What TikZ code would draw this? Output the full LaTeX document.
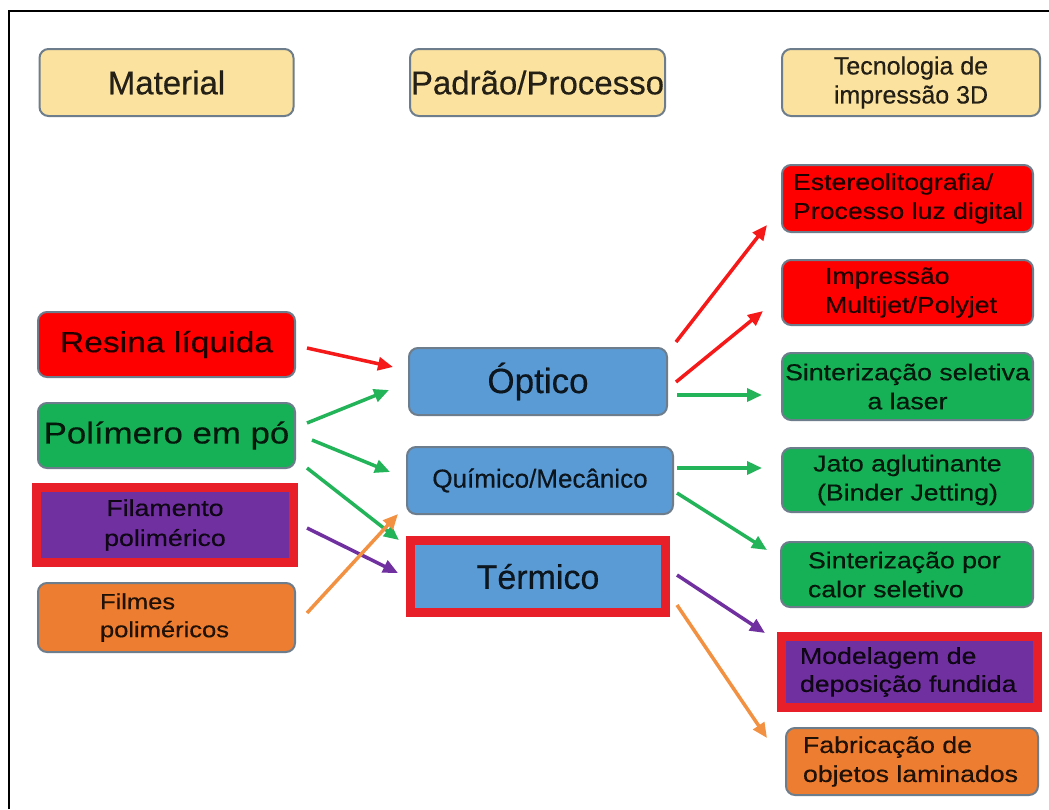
\documentclass[tikz,border=0pt]{standalone}
\usepackage{fontspec}
\setmainfont{Liberation Sans}[FakeBold=0.4]
\newfontfamily\fwide{Liberation Sans}[FakeStretch=1.16,FakeBold=0.4]
\usetikzlibrary{arrows.meta,calc}
\definecolor{hdr}{RGB}{251,226,158}
\definecolor{bred}{RGB}{255,0,0}
\definecolor{bgreen}{RGB}{22,176,86}
\definecolor{bpurple}{RGB}{112,48,160}
\definecolor{borange}{RGB}{237,125,49}
\definecolor{bblue}{RGB}{91,155,213}
\definecolor{frred}{RGB}{232,30,40}
\definecolor{edge}{RGB}{110,125,140}
\definecolor{ared}{RGB}{245,25,25}
\definecolor{agreen}{RGB}{35,180,90}
\definecolor{apurple}{RGB}{112,48,160}
\definecolor{aorange}{RGB}{242,145,65}
\begin{document}
\begin{tikzpicture}[x=1pt,y=-1pt,
  box/.style={draw=edge,line width=2pt,rounded corners=9pt,inner sep=0pt,outer sep=0pt,text=black,text opacity=0.85},
  hdrbox/.style={box,fill=hdr,minimum width=254pt,minimum height=67pt},
  framed/.style={draw=frred,line width=9pt,inner sep=0pt,outer sep=0pt,text=black,text opacity=0.85},
  rbox/.style={box,minimum width=251pt,minimum height=66pt},
  txt/.style={inner sep=0pt,outer sep=0pt,text=black,text opacity=0.85},
  rfont/.style={font=\fwide\fontsize{23}{29}\selectfont},
  conn/.style={line width=3.5pt,-{Triangle[length=15pt,width=13pt]}}
]
\useasboundingbox[fill=white] (0,0) rectangle (1049,809);
\draw[line width=2.5pt] (9,809) -- (9,11) -- (1049,11);

% headers
\node[hdrbox,font=\fontsize{33}{38}\selectfont] (mat) at (166.5,82.5) {Material};
\node[hdrbox,minimum width=255pt,font=\fontsize{33}{38}\selectfont] (pad) at (537.5,82.5) {Padrão/Processo};
\node[hdrbox,minimum width=258pt,align=center,font=\fontsize{25}{29}\selectfont] (tec) at (911,82.5) {Tecnologia de\\impressão 3D};

% materials
\node[box,fill=bred,minimum width=257pt,minimum height=65pt,font=\fwide\fontsize{29}{34}\selectfont] (resina) at (166.5,344.5) {Resina líquida};
\node[box,fill=bgreen,minimum width=257pt,minimum height=65pt,font=\fwide\fontsize{30}{35}\selectfont] (poli) at (166.5,435.5) {Polímero em pó};
\node[framed,fill=bpurple,minimum width=257pt,minimum height=75pt,align=center,font=\fwide\fontsize{23}{30}\selectfont] (fila) at (165,525) {Filamento\\polimérico};
\node[box,fill=borange,minimum width=257pt,minimum height=69pt] (filmes) at (166.5,617.5) {};
\node[txt,anchor=west,align=left,font=\fwide\fontsize{22}{28}\selectfont] (filmesT) at ($(filmes.west)+(62,0)$) {Filmes\\poliméricos};

% processes
\node[box,fill=bblue,minimum width=258pt,minimum height=67pt,font=\fontsize{35}{40}\selectfont] (optico) at (538,381.5) {Óptico};
\node[box,fill=bblue,minimum width=266pt,minimum height=67pt,font=\fontsize{26}{30}\selectfont] (quimico) at (540,480.5) {Químico/Mecânico};
\node[framed,fill=bblue,minimum width=255pt,minimum height=72pt,font=\fontsize{34}{40}\selectfont] (termico) at (538,576.5) {Térmico};

% technologies
\node[rbox,fill=bred,minimum height=67pt] (estereo) at (907.5,198.5) {};
\node[txt,rfont,anchor=west,align=left] (estereoT) at ($(estereo.west)+(11,0)$) {Estereolitografia/\\Processo luz digital};
\node[rbox,fill=bred,minimum height=65pt] (impressao) at (907.5,292.5) {};
\node[txt,rfont,anchor=west,align=left] (impressaoT) at ($(impressao.west)+(43,0)$) {Impressão\\Multijet/Polyjet};
\node[rbox,fill=bgreen,minimum height=67pt,rfont,align=center] (sintsel) at (907.5,386.5) {Sinterização seletiva\\a laser};
\node[rbox,fill=bgreen,minimum height=64pt,rfont,align=center] (jato) at (907.5,480) {Jato aglutinante\\(Binder Jetting)};
\node[rbox,fill=bgreen,minimum width=252pt,minimum height=65pt] (calor) at (907,574.5) {};
\node[txt,rfont,anchor=west,align=left] (calorT) at ($(calor.west)+(27,0)$) {Sinterização por\\calor seletivo};
\node[framed,fill=bpurple,minimum width=256pt,minimum height=71pt] (modelagem) at (909.5,672) {};
\node[txt,anchor=west,align=left,font=\fwide\fontsize{23}{28}\selectfont] (modelagemT) at ($(modelagem.west)+(18.5,0)$) {Modelagem de\\deposição fundida};
\node[rbox,fill=borange,minimum width=252pt,minimum height=67pt] (fabricacao) at (912,761.5) {};
\node[txt,rfont,anchor=west,align=left] (fabricacaoT) at ($(fabricacao.west)+(17,0)$) {Fabricação de\\objetos laminados};

% connectors: material -> process
\draw[conn,ared] ($(resina.east)+(12,3.5)$) -- ($(optico.west)+(-16,-14.5)$);
\draw[conn,agreen] ($(poli.east)+(12,-12.5)$) -- ($(optico.west)+(-20,8.5)$);
\draw[conn,agreen] ($(poli.east)+(17,4.5)$) -- ($(quimico.west)+(-17,-8.5)$);
\draw[conn,agreen] ($(poli.east)+(12,32.5)$) -- ($(termico.north west)+(-11.5,-0.5)$);
\draw[conn,apurple] ($(fila.east)+(13.5,3)$) -- ($(termico.west)+(-12.5,-3.5)$);
\draw[conn,aorange] ($(filmes.east)+(12,-4.5)$) -- ($(quimico.south west)+(-9,0)$);

% connectors: process -> technology
\draw[conn,ared] ($(optico.north east)+(9,-6)$) -- ($(estereo.south west)+(-15,-7)$);
\draw[conn,ared] ($(optico.east)+(9,0.5)$) -- ($(impressao.west)+(-19,18.5)$);
\draw[conn,agreen] ($(optico.east)+(10,13.5)$) -- ($(sintsel.west)+(-20,8.5)$);
\draw[conn,agreen] ($(quimico.east)+(4,-12.5)$) -- ($(jato.west)+(-20,-12)$);
\draw[conn,agreen] ($(quimico.east)+(4,12.5)$) -- ($(calor.north west)+(-14,8)$);
\draw[conn,apurple] ($(termico.east)+(11.5,-1.5)$) -- ($(modelagem.north west)+(-16.5,-3.5)$);
\draw[conn,aorange] ($(termico.east)+(11.5,28.5)$) -- ($(fabricacao.west)+(-19,-23.5)$);
\end{tikzpicture}
\end{document}
